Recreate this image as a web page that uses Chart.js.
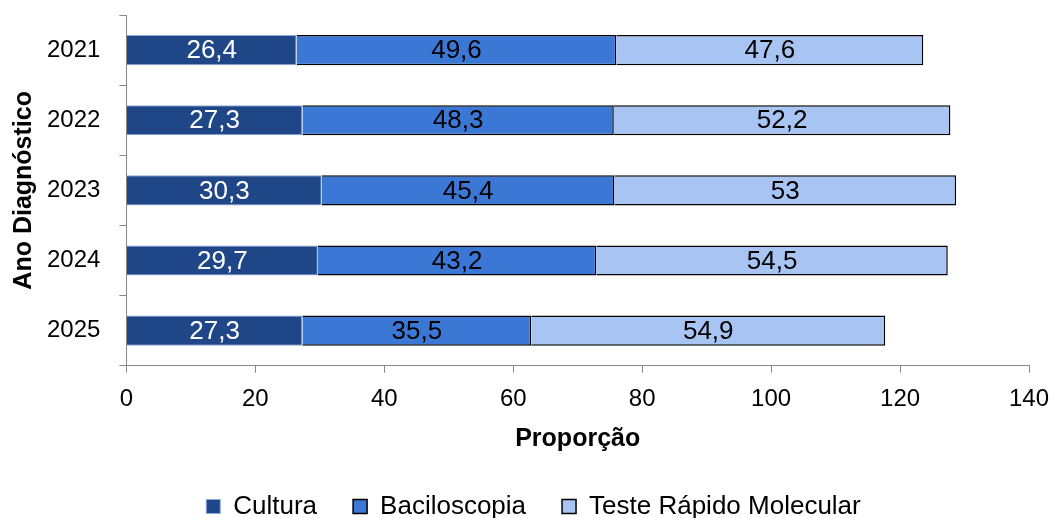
<!DOCTYPE html>
<html>
<head>
<meta charset="utf-8">
<script src="https://cdn.jsdelivr.net/npm/chart.js@4.4.1/dist/chart.umd.min.js"></script>
<style>
html,body{margin:0;padding:0;background:#fff;}
#wrap{width:1054px;height:518px;}
</style>
</head>
<body>
<div id="wrap"><canvas id="c" width="1054" height="518"></canvas></div>
<script>
/* ===== 資料 ===== */
const ANOS=['2021','2022','2023','2024','2025'];
const CULTURA=[26.4,27.3,30.3,29.7,27.3];
const BACILO=[49.6,48.3,45.4,43.2,35.5];
const TRM=[47.6,52.2,53,54.5,54.9];
const X_TICKS=[0,20,40,60,80,100,120,140];

const FONT='"Liberation Sans", Arial, sans-serif';
const fmtBR=v=>String(v).replace('.',',');

/* 標籤 plugin */
const labelPlugin={id:'segLabels',afterDatasetsDraw(chart){
  const ctx=chart.ctx;ctx.save();
  ctx.font='26px '+FONT;ctx.textAlign='center';ctx.textBaseline='middle';
  chart.data.datasets.forEach((ds,i)=>{
    chart.getDatasetMeta(i).data.forEach((bar,j)=>{
      const p=bar.getProps(['x','y','base'],true);
      ctx.fillStyle=ds.labelColor;
      ctx.fillText(fmtBR(ds.data[j]),(p.x+p.base)/2,p.y+1);
    });
  });
  ctx.restore();
}};

new Chart(document.getElementById('c'),{
  type:'bar',
  data:{labels:ANOS,datasets:[
    {label:'Cultura',data:CULTURA,backgroundColor:'#1f4788',borderColor:'#8eaadb',borderWidth:1,labelColor:'#fff'},
    {label:'Baciloscopia',data:BACILO,backgroundColor:'#3b78d6',borderColor:'#000',borderWidth:1.5,labelColor:'#000'},
    {label:'Teste Rápido Molecular',data:TRM,backgroundColor:'#a7c4f2',borderColor:'#000',borderWidth:1.5,labelColor:'#000'}
  ]},
  options:{
    indexAxis:'y',responsive:false,animation:false,
    categoryPercentage:0.43,barPercentage:1,
    layout:{padding:{left:9,right:-4,top:15,bottom:-11.5}},
    plugins:{
      tooltip:{enabled:false},
      legend:{position:'bottom',labels:{font:{family:FONT,size:26},color:'#000',boxWidth:14,boxHeight:14,padding:36}}
    },
    scales:{
      x:{stacked:true,min:0,max:140,afterBuildTicks:s=>{s.ticks=X_TICKS.map(v=>({value:v}));},
        afterFit:s=>{s.height-=14;s.paddingRight=25;},
        grid:{drawOnChartArea:false,color:'#888',tickLength:7},border:{color:'#888'},
        ticks:{font:{family:FONT,size:24},color:'#000',padding:12},
        title:{display:true,text:'Proporção',font:{family:FONT,size:25,weight:'bold'},color:'#000',padding:{top:13,bottom:3}}},
      y:{stacked:true,grid:{drawOnChartArea:false,color:'#888',tickLength:7,offset:true},border:{color:'#888'},
        afterFit:s=>{s.paddingTop=0;s.paddingBottom=0;s.width-=19;},
        ticks:{font:{family:FONT,size:24},color:'#000',padding:19},
        title:{display:true,text:'Ano Diagnóstico',font:{family:FONT,size:25,weight:'bold'},color:'#000',padding:{top:0,bottom:8}}}
    }
  },
  plugins:[labelPlugin]
});
</script>
</body>
</html>
